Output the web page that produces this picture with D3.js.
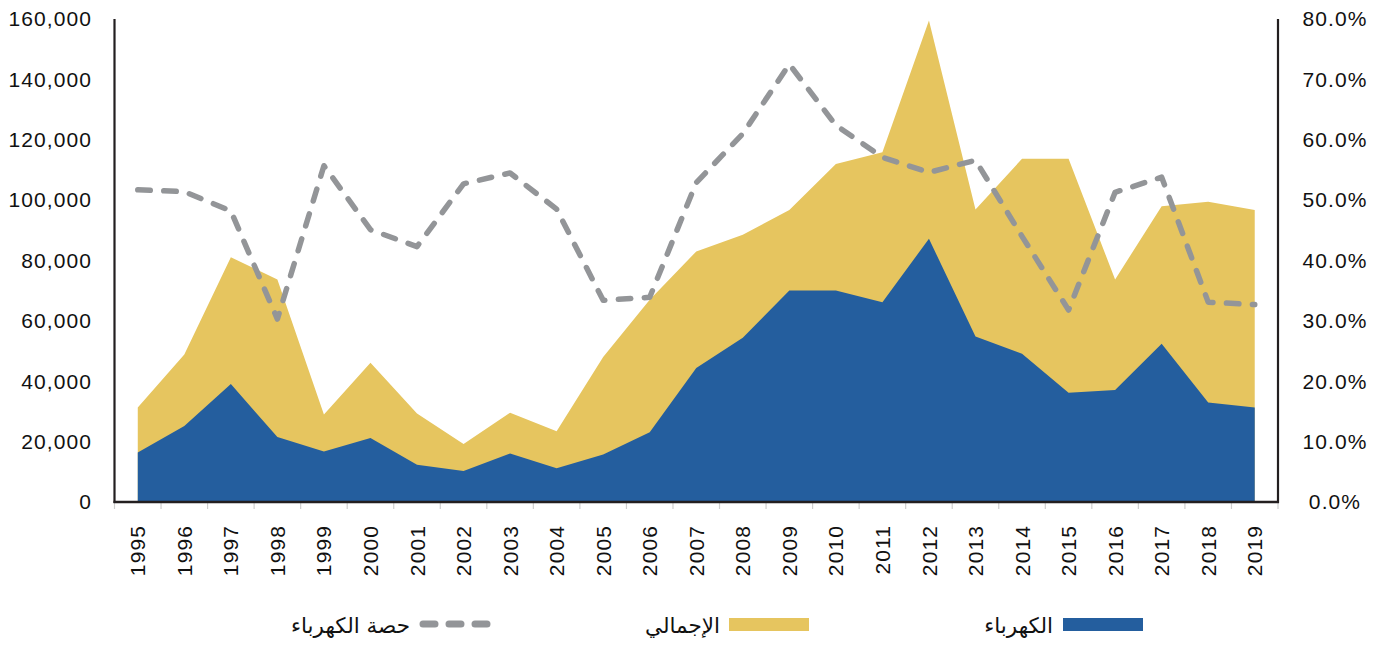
<!DOCTYPE html>
<html>
<head>
<meta charset="utf-8">
<script src="https://cdn.jsdelivr.net/npm/d3@7"></script>
<style>
html,body{margin:0;padding:0;background:#fff;}
svg{display:block;}
text{font-family:"Liberation Sans",Arial,Helvetica,sans-serif;fill:#111;}
</style>
</head>
<body>
<svg id="chart" width="1387" height="646"></svg>
<script>
const years = ["1995","1996","1997","1998","1999","2000","2001","2002","2003","2004","2005","2006","2007","2008","2009","2010","2011","2012","2013","2014","2015","2016","2017","2018","2019"];
const totalValues = [31300,48900,81100,73700,29000,46100,29300,19200,29600,23400,48000,67000,83000,88500,96700,112000,115900,159500,96900,113700,113700,73700,98000,99500,96700];
const electricityValues = [16400,25200,39100,21500,16700,21200,12300,10300,16100,11200,15700,23100,44400,54400,70100,70100,66200,87200,54800,49100,36200,37100,52400,33000,31300];
const shareValues = [0.517,0.514,0.482,0.303,0.557,0.451,0.423,0.527,0.545,0.485,0.334,0.339,0.529,0.610,0.725,0.624,0.571,0.546,0.566,0.440,0.318,0.513,0.538,0.331,0.327];
const leftTicks = [0,20000,40000,60000,80000,100000,120000,140000,160000];
const rightTicks = [0,0.1,0.2,0.3,0.4,0.5,0.6,0.7,0.8];
const legendLabels = ["الكهرباء","الإجمالي","حصة الكهرباء"];

const colors = {blue:"#245e9e", yellow:"#e6c55f", gray:"#939598", axis:"#231f20"};
const svg = d3.select("#chart");
const L = 114.5, R = 1278, T = 19, B = 502;

const x = d3.scaleBand().domain(years).range([L, R]).padding(0);
const cx = d => x(d) + x.bandwidth()/2;
const y = d3.scaleLinear().domain([0,160000]).range([B, T]);
const y2 = d3.scaleLinear().domain([0,0.8]).range([B, T]);

// areas
const area = d3.area().x((d,i)=>cx(years[i])).y0(B).y1(d=>y(d));
svg.append("path").attr("d", area(totalValues)).attr("fill", colors.yellow);
svg.append("path").attr("d", area(electricityValues)).attr("fill", colors.blue);

// share line
const line = d3.line().x((d,i)=>cx(years[i])).y(d=>y2(d));
svg.append("path").attr("d", line(shareValues)).attr("fill","none")
  .attr("stroke", colors.gray).attr("stroke-width", 5.5)
  .attr("stroke-dasharray","12.5,13.5").attr("stroke-linecap","round").attr("stroke-linejoin","round");

// x ticks (band boundaries)
const bounds = years.map(d=>x(d)).concat([R]);
svg.append("g").selectAll("line").data(bounds).join("line")
  .attr("x1",d=>d).attr("x2",d=>d).attr("y1",B+1).attr("y2",B+7)
  .attr("stroke","#cfcfcf").attr("stroke-width",1.2);

// axes lines
svg.append("line").attr("x1",L).attr("x2",L).attr("y1",T).attr("y2",B+1).attr("stroke",colors.axis).attr("stroke-width",2.2);
svg.append("line").attr("x1",R).attr("x2",R).attr("y1",T).attr("y2",B+1).attr("stroke",colors.axis).attr("stroke-width",2.2);
svg.append("line").attr("x1",L-1).attr("x2",R+1).attr("y1",B).attr("y2",B).attr("stroke",colors.axis).attr("stroke-width",2.5);

// left tick labels
const fmt = d3.format(",");
svg.append("g").selectAll("text").data(leftTicks).join("text")
  .attr("x",92).attr("y",d=>y(d)).attr("dy","0.35em").attr("text-anchor","end")
  .attr("font-size",21).attr("letter-spacing","1.1px").text(d=>fmt(d));

// right tick labels
const pf = d3.format(".1%");
svg.append("g").selectAll("text").data(rightTicks).join("text")
  .attr("x",1335).attr("y",d=>y2(d)).attr("dy","0.35em").attr("text-anchor","middle")
  .attr("font-size",21).attr("letter-spacing","1.1px").text(d=>pf(d));

// x labels rotated
svg.append("g").selectAll("text").data(years).join("text")
  .attr("transform",d=>`translate(${cx(d)},525) rotate(-90)`)
  .attr("dy","0.36em").attr("text-anchor","end")
  .attr("font-size",21).attr("letter-spacing","1.1px").text(d=>d);

// legend
const lg = svg.append("g");
const lstyle = "font-family:'DejaVu Sans',sans-serif";
lg.append("rect").attr("x",1063).attr("y",618).attr("width",80).attr("height",13).attr("fill",colors.blue);
lg.append("text").attr("x",1053).attr("y",625).attr("dy","0.35em").attr("text-anchor","end")
  .attr("font-size",21.5).attr("style",lstyle).text(legendLabels[0]);
lg.append("rect").attr("x",729).attr("y",618).attr("width",80).attr("height",13).attr("fill",colors.yellow);
lg.append("text").attr("x",720).attr("y",625).attr("dy","0.35em").attr("text-anchor","end")
  .attr("font-size",21.5).attr("style",lstyle).text(legendLabels[1]);
lg.append("line").attr("x1",423).attr("x2",495).attr("y1",624).attr("y2",624)
  .attr("stroke",colors.gray).attr("stroke-width",7).attr("stroke-linecap","round").attr("stroke-dasharray","12,14");
lg.append("text").attr("x",410).attr("y",625).attr("dy","0.35em").attr("text-anchor","end")
  .attr("font-size",21.5).attr("style",lstyle).text(legendLabels[2]);
</script>
</body>
</html>
